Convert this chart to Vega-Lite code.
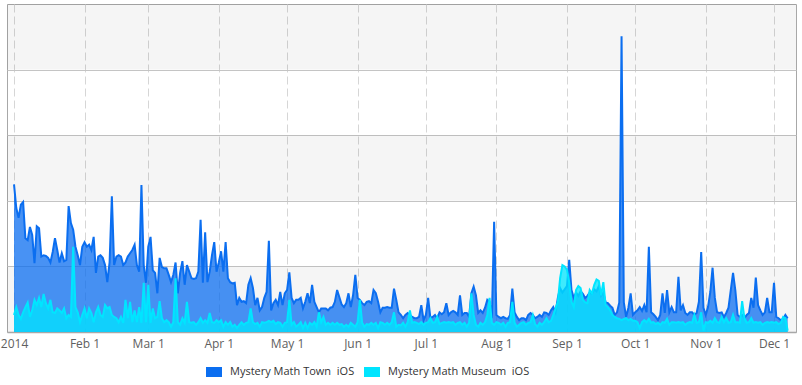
{
"$schema": "https://vega.github.io/schema/vega-lite/v6.json",
"width": 789, "height": 328,
"autosize": {"type": "none"},
"padding": {"left": 7, "top": 4, "right": 6, "bottom": 53},
"config": {
  "view": {"stroke": "#a8a8a8", "strokeWidth": 1},
  "font": "Open Sans",
  "axisX": {"grid": true, "gridDash": [8, 4], "gridColor": "#d6d6d6", "gridWidth": 1, "domainColor": "#a8a8a8", "domainWidth": 1.5, "ticks": false, "labelColor": "#606060", "labelFontSize": 12, "labelFont": "Open Sans", "labelPadding": 6, "title": null},
  "axisY": {"grid": true, "gridColor": "#c4c4c4", "labels": false, "ticks": false, "domain": false, "title": null},
  "legend": {"orient": "none", "legendX": 199, "legendY": 360, "direction": "horizontal", "title": null, "symbolType": "M-1,-0.625H1V0.625H-1Z", "symbolSize": 256, "symbolStrokeWidth": 0, "symbolOpacity": 1, "labelFont": "Open Sans", "labelFontSize": 11, "labelColor": "#333333", "labelOffset": 8, "columnPadding": 9, "labelLimit": 300, "padding": 0}
},
"datasets": {
"bands": [{"lo": 0, "hi": 100}, {"lo": 200, "hi": 300}, {"lo": 400, "hi": 500}],
"main": [
{"date":"2014-01-01","t":225,"m":26},{"date":"2014-01-02","t":189,"m":38},{"date":"2014-01-03","t":174,"m":26},{"date":"2014-01-04","t":194,"m":20},{"date":"2014-01-05","t":198,"m":30},{"date":"2014-01-06","t":143,"m":38},{"date":"2014-01-07","t":140,"m":45},{"date":"2014-01-08","t":160,"m":23},{"date":"2014-01-09","t":148,"m":33},{"date":"2014-01-10","t":105,"m":49},{"date":"2014-01-11","t":161,"m":41},{"date":"2014-01-12","t":158,"m":52},{"date":"2014-01-13","t":115,"m":38},{"date":"2014-01-14","t":117,"m":58},{"date":"2014-01-15","t":116,"m":44},{"date":"2014-01-16","t":113,"m":36},{"date":"2014-01-17","t":106,"m":49},{"date":"2014-01-18","t":122,"m":30},{"date":"2014-01-19","t":143,"m":29},{"date":"2014-01-20","t":125,"m":36},{"date":"2014-01-21","t":106,"m":33},{"date":"2014-01-22","t":120,"m":29},{"date":"2014-01-23","t":108,"m":36},{"date":"2014-01-24","t":110,"m":21},{"date":"2014-01-25","t":192,"m":26},{"date":"2014-01-26","t":166,"m":23},{"date":"2014-01-27","t":156,"m":130},{"date":"2014-01-28","t":130,"m":38},{"date":"2014-01-29","t":117,"m":30},{"date":"2014-01-30","t":102,"m":15},{"date":"2014-01-31","t":130,"m":26},
{"date":"2014-02-01","t":137,"m":36},{"date":"2014-02-02","t":130,"m":21},{"date":"2014-02-03","t":133,"m":36},{"date":"2014-02-04","t":125,"m":29},{"date":"2014-02-05","t":145,"m":15},{"date":"2014-02-06","t":90,"m":30},{"date":"2014-02-07","t":115,"m":38},{"date":"2014-02-08","t":117,"m":26},{"date":"2014-02-09","t":113,"m":23},{"date":"2014-02-10","t":102,"m":41},{"date":"2014-02-11","t":76,"m":36},{"date":"2014-02-12","t":106,"m":38},{"date":"2014-02-13","t":207,"m":26},{"date":"2014-02-14","t":102,"m":23},{"date":"2014-02-15","t":115,"m":21},{"date":"2014-02-16","t":117,"m":15},{"date":"2014-02-17","t":115,"m":23},{"date":"2014-02-18","t":102,"m":14},{"date":"2014-02-19","t":106,"m":49},{"date":"2014-02-20","t":115,"m":21},{"date":"2014-02-21","t":120,"m":46},{"date":"2014-02-22","t":125,"m":15},{"date":"2014-02-23","t":133,"m":33},{"date":"2014-02-24","t":102,"m":15},{"date":"2014-02-25","t":92,"m":38},{"date":"2014-02-26","t":224,"m":14},{"date":"2014-02-27","t":102,"m":75},{"date":"2014-02-28","t":75,"m":15},
{"date":"2014-03-01","t":130,"m":72},{"date":"2014-03-02","t":145,"m":14},{"date":"2014-03-03","t":94,"m":36},{"date":"2014-03-04","t":90,"m":21},{"date":"2014-03-05","t":59,"m":23},{"date":"2014-03-06","t":113,"m":47},{"date":"2014-03-07","t":99,"m":21},{"date":"2014-03-08","t":97,"m":15},{"date":"2014-03-09","t":97,"m":18},{"date":"2014-03-10","t":87,"m":15},{"date":"2014-03-11","t":76,"m":8},{"date":"2014-03-12","t":87,"m":15},{"date":"2014-03-13","t":106,"m":82},{"date":"2014-03-14","t":59,"m":15},{"date":"2014-03-15","t":90,"m":11},{"date":"2014-03-16","t":108,"m":21},{"date":"2014-03-17","t":72,"m":14},{"date":"2014-03-18","t":102,"m":46},{"date":"2014-03-19","t":92,"m":15},{"date":"2014-03-20","t":82,"m":14},{"date":"2014-03-21","t":81,"m":15},{"date":"2014-03-22","t":82,"m":11},{"date":"2014-03-23","t":92,"m":15},{"date":"2014-03-24","t":171,"m":21},{"date":"2014-03-25","t":75,"m":14},{"date":"2014-03-26","t":152,"m":18},{"date":"2014-03-27","t":76,"m":14},{"date":"2014-03-28","t":92,"m":29},{"date":"2014-03-29","t":117,"m":15},{"date":"2014-03-30","t":137,"m":14},{"date":"2014-03-31","t":92,"m":18},
{"date":"2014-04-01","t":106,"m":15},{"date":"2014-04-02","t":123,"m":18},{"date":"2014-04-03","t":92,"m":8},{"date":"2014-04-04","t":137,"m":15},{"date":"2014-04-05","t":82,"m":11},{"date":"2014-04-06","t":76,"m":15},{"date":"2014-04-07","t":74,"m":8},{"date":"2014-04-08","t":75,"m":11},{"date":"2014-04-09","t":41,"m":6},{"date":"2014-04-10","t":52,"m":11},{"date":"2014-04-11","t":46,"m":15},{"date":"2014-04-12","t":47,"m":11},{"date":"2014-04-13","t":44,"m":14},{"date":"2014-04-14","t":72,"m":15},{"date":"2014-04-15","t":82,"m":36},{"date":"2014-04-16","t":67,"m":15},{"date":"2014-04-17","t":41,"m":12},{"date":"2014-04-18","t":52,"m":14},{"date":"2014-04-19","t":33,"m":8},{"date":"2014-04-20","t":38,"m":15},{"date":"2014-04-21","t":52,"m":14},{"date":"2014-04-22","t":61,"m":15},{"date":"2014-04-23","t":139,"m":17},{"date":"2014-04-24","t":33,"m":15},{"date":"2014-04-25","t":44,"m":17},{"date":"2014-04-26","t":49,"m":12},{"date":"2014-04-27","t":41,"m":15},{"date":"2014-04-28","t":61,"m":14},{"date":"2014-04-29","t":41,"m":8},{"date":"2014-04-30","t":59,"m":14},
{"date":"2014-05-01","t":64,"m":15},{"date":"2014-05-02","t":91,"m":49},{"date":"2014-05-03","t":52,"m":11},{"date":"2014-05-04","t":44,"m":15},{"date":"2014-05-05","t":49,"m":8},{"date":"2014-05-06","t":49,"m":11},{"date":"2014-05-07","t":52,"m":15},{"date":"2014-05-08","t":36,"m":6},{"date":"2014-05-09","t":46,"m":14},{"date":"2014-05-10","t":59,"m":6},{"date":"2014-05-11","t":44,"m":14},{"date":"2014-05-12","t":72,"m":11},{"date":"2014-05-13","t":46,"m":15},{"date":"2014-05-14","t":38,"m":8},{"date":"2014-05-15","t":30,"m":30},{"date":"2014-05-16","t":36,"m":15},{"date":"2014-05-17","t":36,"m":23},{"date":"2014-05-18","t":36,"m":11},{"date":"2014-05-19","t":33,"m":14},{"date":"2014-05-20","t":37,"m":11},{"date":"2014-05-21","t":38,"m":14},{"date":"2014-05-22","t":46,"m":11},{"date":"2014-05-23","t":64,"m":14},{"date":"2014-05-24","t":53,"m":11},{"date":"2014-05-25","t":42,"m":12},{"date":"2014-05-26","t":38,"m":8},{"date":"2014-05-27","t":44,"m":11},{"date":"2014-05-28","t":59,"m":8},{"date":"2014-05-29","t":38,"m":14},{"date":"2014-05-30","t":56,"m":11},{"date":"2014-05-31","t":87,"m":8},
{"date":"2014-06-01","t":52,"m":15},{"date":"2014-06-02","t":49,"m":49},{"date":"2014-06-03","t":44,"m":14},{"date":"2014-06-04","t":41,"m":8},{"date":"2014-06-05","t":46,"m":12},{"date":"2014-06-06","t":47,"m":11},{"date":"2014-06-07","t":44,"m":14},{"date":"2014-06-08","t":64,"m":11},{"date":"2014-06-09","t":59,"m":14},{"date":"2014-06-10","t":46,"m":6},{"date":"2014-06-11","t":30,"m":15},{"date":"2014-06-12","t":37,"m":14},{"date":"2014-06-13","t":37,"m":11},{"date":"2014-06-14","t":38,"m":14},{"date":"2014-06-15","t":37,"m":11},{"date":"2014-06-16","t":37,"m":15},{"date":"2014-06-17","t":66,"m":30},{"date":"2014-06-18","t":49,"m":8},{"date":"2014-06-19","t":30,"m":11},{"date":"2014-06-20","t":26,"m":10},{"date":"2014-06-21","t":21,"m":14},{"date":"2014-06-22","t":26,"m":8},{"date":"2014-06-23","t":29,"m":15},{"date":"2014-06-24","t":26,"m":33},{"date":"2014-06-25","t":23,"m":14},{"date":"2014-06-26","t":21,"m":15},{"date":"2014-06-27","t":21,"m":14},{"date":"2014-06-28","t":23,"m":12},{"date":"2014-06-29","t":41,"m":15},{"date":"2014-06-30","t":18,"m":11},
{"date":"2014-07-01","t":26,"m":14},{"date":"2014-07-02","t":52,"m":15},{"date":"2014-07-03","t":21,"m":21},{"date":"2014-07-04","t":23,"m":14},{"date":"2014-07-05","t":26,"m":15},{"date":"2014-07-06","t":21,"m":23},{"date":"2014-07-07","t":30,"m":12},{"date":"2014-07-08","t":27,"m":14},{"date":"2014-07-09","t":30,"m":15},{"date":"2014-07-10","t":44,"m":14},{"date":"2014-07-11","t":26,"m":15},{"date":"2014-07-12","t":30,"m":14},{"date":"2014-07-13","t":32,"m":15},{"date":"2014-07-14","t":30,"m":11},{"date":"2014-07-15","t":26,"m":14},{"date":"2014-07-16","t":56,"m":15},{"date":"2014-07-17","t":26,"m":11},{"date":"2014-07-18","t":29,"m":14},{"date":"2014-07-19","t":29,"m":8},{"date":"2014-07-20","t":23,"m":14},{"date":"2014-07-21","t":59,"m":59},{"date":"2014-07-22","t":69,"m":26},{"date":"2014-07-23","t":56,"m":11},{"date":"2014-07-24","t":29,"m":8},{"date":"2014-07-25","t":33,"m":14},{"date":"2014-07-26","t":29,"m":11},{"date":"2014-07-27","t":37,"m":15},{"date":"2014-07-28","t":49,"m":26},{"date":"2014-07-29","t":46,"m":52},{"date":"2014-07-30","t":21,"m":14},{"date":"2014-07-31","t":168,"m":11},
{"date":"2014-08-01","t":26,"m":15},{"date":"2014-08-02","t":23,"m":14},{"date":"2014-08-03","t":21,"m":11},{"date":"2014-08-04","t":23,"m":14},{"date":"2014-08-05","t":21,"m":8},{"date":"2014-08-06","t":20,"m":14},{"date":"2014-08-07","t":26,"m":15},{"date":"2014-08-08","t":66,"m":46},{"date":"2014-08-09","t":30,"m":14},{"date":"2014-08-10","t":23,"m":8},{"date":"2014-08-11","t":18,"m":11},{"date":"2014-08-12","t":21,"m":14},{"date":"2014-08-13","t":21,"m":15},{"date":"2014-08-14","t":18,"m":11},{"date":"2014-08-15","t":26,"m":14},{"date":"2014-08-16","t":29,"m":15},{"date":"2014-08-17","t":26,"m":26},{"date":"2014-08-18","t":21,"m":12},{"date":"2014-08-19","t":23,"m":8},{"date":"2014-08-20","t":26,"m":14},{"date":"2014-08-21","t":23,"m":11},{"date":"2014-08-22","t":30,"m":15},{"date":"2014-08-23","t":29,"m":21},{"date":"2014-08-24","t":26,"m":15},{"date":"2014-08-25","t":33,"m":17},{"date":"2014-08-26","t":38,"m":26},{"date":"2014-08-27","t":30,"m":36},{"date":"2014-08-28","t":52,"m":46},{"date":"2014-08-29","t":67,"m":82},{"date":"2014-08-30","t":60,"m":102},{"date":"2014-08-31","t":65,"m":100},
{"date":"2014-09-01","t":70,"m":95},{"date":"2014-09-02","t":110,"m":76},{"date":"2014-09-03","t":64,"m":46},{"date":"2014-09-04","t":52,"m":38},{"date":"2014-09-05","t":60,"m":64},{"date":"2014-09-06","t":55,"m":70},{"date":"2014-09-07","t":62,"m":67},{"date":"2014-09-08","t":58,"m":49},{"date":"2014-09-09","t":52,"m":45},{"date":"2014-09-10","t":55,"m":44},{"date":"2014-09-11","t":60,"m":64},{"date":"2014-09-12","t":58,"m":59},{"date":"2014-09-13","t":65,"m":72},{"date":"2014-09-14","t":62,"m":80},{"date":"2014-09-15","t":70,"m":78},{"date":"2014-09-16","t":55,"m":56},{"date":"2014-09-17","t":60,"m":76},{"date":"2014-09-18","t":45,"m":41},{"date":"2014-09-19","t":44,"m":38},{"date":"2014-09-20","t":40,"m":33},{"date":"2014-09-21","t":37,"m":26},{"date":"2014-09-22","t":26,"m":23},{"date":"2014-09-23","t":30,"m":21},{"date":"2014-09-24","t":45,"m":20},{"date":"2014-09-25","t":451,"m":18},{"date":"2014-09-26","t":45,"m":20},{"date":"2014-09-27","t":23,"m":21},{"date":"2014-09-28","t":37,"m":18},{"date":"2014-09-29","t":59,"m":20},{"date":"2014-09-30","t":26,"m":17},
{"date":"2014-10-01","t":30,"m":17},{"date":"2014-10-02","t":33,"m":15},{"date":"2014-10-03","t":38,"m":6},{"date":"2014-10-04","t":32,"m":15},{"date":"2014-10-05","t":41,"m":18},{"date":"2014-10-06","t":30,"m":15},{"date":"2014-10-07","t":130,"m":20},{"date":"2014-10-08","t":30,"m":14},{"date":"2014-10-09","t":27,"m":15},{"date":"2014-10-10","t":23,"m":12},{"date":"2014-10-11","t":18,"m":14},{"date":"2014-10-12","t":26,"m":11},{"date":"2014-10-13","t":59,"m":15},{"date":"2014-10-14","t":29,"m":14},{"date":"2014-10-15","t":64,"m":20},{"date":"2014-10-16","t":30,"m":11},{"date":"2014-10-17","t":38,"m":15},{"date":"2014-10-18","t":30,"m":15},{"date":"2014-10-19","t":30,"m":14},{"date":"2014-10-20","t":84,"m":15},{"date":"2014-10-21","t":33,"m":14},{"date":"2014-10-22","t":41,"m":15},{"date":"2014-10-23","t":29,"m":11},{"date":"2014-10-24","t":26,"m":14},{"date":"2014-10-25","t":30,"m":15},{"date":"2014-10-26","t":30,"m":14},{"date":"2014-10-27","t":26,"m":26},{"date":"2014-10-28","t":29,"m":14},{"date":"2014-10-29","t":46,"m":15},{"date":"2014-10-30","t":122,"m":30},{"date":"2014-10-31","t":37,"m":2},
{"date":"2014-11-01","t":26,"m":15},{"date":"2014-11-02","t":38,"m":14},{"date":"2014-11-03","t":61,"m":17},{"date":"2014-11-04","t":98,"m":14},{"date":"2014-11-05","t":52,"m":21},{"date":"2014-11-06","t":30,"m":15},{"date":"2014-11-07","t":29,"m":14},{"date":"2014-11-08","t":30,"m":23},{"date":"2014-11-09","t":23,"m":15},{"date":"2014-11-10","t":29,"m":21},{"date":"2014-11-11","t":37,"m":14},{"date":"2014-11-12","t":64,"m":15},{"date":"2014-11-13","t":90,"m":26},{"date":"2014-11-14","t":64,"m":15},{"date":"2014-11-15","t":26,"m":15},{"date":"2014-11-16","t":23,"m":14},{"date":"2014-11-17","t":26,"m":47},{"date":"2014-11-18","t":21,"m":21},{"date":"2014-11-19","t":26,"m":14},{"date":"2014-11-20","t":29,"m":15},{"date":"2014-11-21","t":52,"m":21},{"date":"2014-11-22","t":37,"m":14},{"date":"2014-11-23","t":83,"m":15},{"date":"2014-11-24","t":41,"m":14},{"date":"2014-11-25","t":33,"m":15},{"date":"2014-11-26","t":26,"m":11},{"date":"2014-11-27","t":30,"m":14},{"date":"2014-11-28","t":52,"m":15},{"date":"2014-11-29","t":30,"m":14},{"date":"2014-11-30","t":30,"m":15},
{"date":"2014-12-01","t":75,"m":14},{"date":"2014-12-02","t":23,"m":15},{"date":"2014-12-03","t":21,"m":12},{"date":"2014-12-04","t":18,"m":14},{"date":"2014-12-05","t":20,"m":23},{"date":"2014-12-06","t":26,"m":21},{"date":"2014-12-07","t":21,"m":2}
]
},
"layer": [
  {
    "data": {"name": "bands"},
    "mark": {"type": "rect", "color": "#000000", "opacity": 0.04},
    "encoding": {
      "y": {"field": "lo", "type": "quantitative", "title": null, "scale": {"domain": [0, 500], "nice": false, "zero": true}, "axis": {"values": [100, 200, 300, 400]}},
      "y2": {"field": "hi"}
    }
  },
  {
    "data": {"name": "main"},
    "mark": {"type": "area", "line": {"strokeWidth": 2}, "fillOpacity": 0.75, "interpolate": "linear"},
    "encoding": {
      "x": {"field": "date", "type": "temporal", "title": null,
        "scale": {"type": "utc", "domain": [{"year": 2013, "month": 12, "date": 28, "hours": 22, "utc": true}, {"year": 2014, "month": 12, "date": 10, "hours": 16, "utc": true}]},
        "axis": {"values": [
          {"year": 2014, "month": 1, "date": 1, "utc": true}, {"year": 2014, "month": 2, "date": 1, "utc": true}, {"year": 2014, "month": 3, "date": 1, "utc": true}, {"year": 2014, "month": 4, "date": 1, "utc": true}, {"year": 2014, "month": 5, "date": 1, "utc": true}, {"year": 2014, "month": 6, "date": 1, "utc": true}, {"year": 2014, "month": 7, "date": 1, "utc": true}, {"year": 2014, "month": 8, "date": 1, "utc": true}, {"year": 2014, "month": 9, "date": 1, "utc": true}, {"year": 2014, "month": 10, "date": 1, "utc": true}, {"year": 2014, "month": 11, "date": 1, "utc": true}, {"year": 2014, "month": 12, "date": 1, "utc": true}],
          "labelExpr": "utcmonth(datum.value) == 0 ? utcFormat(datum.value, '%Y') : utcFormat(datum.value, '%b %-d')"}},
      "y": {"field": "t", "type": "quantitative", "stack": null, "title": null},
      "color": {"datum": "Mystery Math Town", "type": "nominal",
        "scale": {"domain": ["Mystery Math Town", "Mystery Math Museum"], "range": ["#0b6ef0", "#00e5ff"]},
        "legend": {"labelExpr": "datum.label + '\u00a0\u00a0iOS'"}}
    }
  },
  {
    "data": {"name": "main"},
    "mark": {"type": "area", "line": {"strokeWidth": 2}, "fillOpacity": 0.75, "interpolate": "linear"},
    "encoding": {
      "x": {"field": "date", "type": "temporal", "title": null},
      "y": {"field": "m", "type": "quantitative", "stack": null, "title": null},
      "color": {"datum": "Mystery Math Museum", "type": "nominal"}
    }
  }
]
}
